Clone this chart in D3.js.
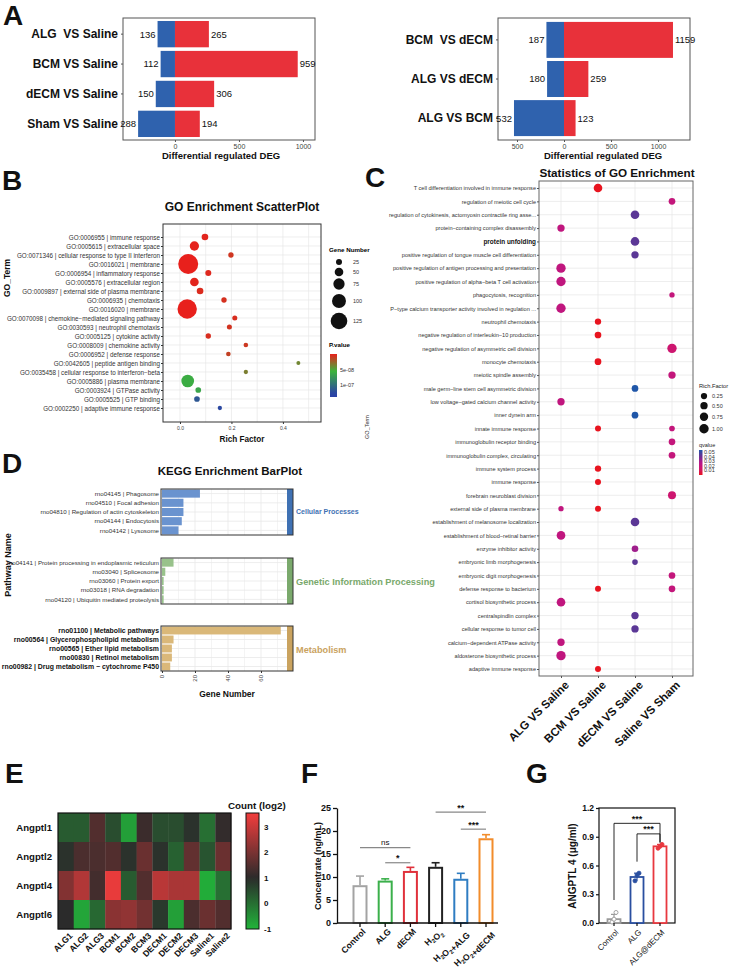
<!DOCTYPE html>
<html>
<head>
<meta charset="utf-8">
<title>Figure</title>
<script src="https://cdn.jsdelivr.net/npm/d3@7"></script>
<style>
  body { margin: 0; background: #fff; }
  svg { display: block; font-family: "Liberation Sans", Arial, Helvetica, sans-serif; }
</style>
</head>
<body>
<svg id="fig" width="733" height="978"></svg>
<script>
// ---------- data ----------
// A: differential regulated DEG (down = blue, up = red)
const degCatsLeft = ["ALG  VS Saline", "BCM VS Saline", "dECM VS Saline", "Sham VS Saline"];
const degDownLeft = [136, 112, 150, 288];
const degUpLeft = [265, 959, 306, 194];
const degCatsRight = ["BCM  VS dECM", "ALG VS dECM", "ALG VS BCM"];
const degDownRight = [187, 180, 532];
const degUpRight = [1159, 259, 123];

// B: GO enrichment scatter
const goTerms = [
  "GO:0006955 | immune response",
  "GO:0005615 | extracellular space",
  "GO:0071346 | cellular response to type II interferon",
  "GO:0016021 | membrane",
  "GO:0006954 | inflammatory response",
  "GO:0005576 | extracellular region",
  "GO:0009897 | external side of plasma membrane",
  "GO:0006935 | chemotaxis",
  "GO:0016020 | membrane",
  "GO:0070098 | chemokine\u2212mediated signaling pathway",
  "GO:0030593 | neutrophil chemotaxis",
  "GO:0005125 | cytokine activity",
  "GO:0008009 | chemokine activity",
  "GO:0006952 | defense response",
  "GO:0042605 | peptide antigen binding",
  "GO:0035458 | cellular response to interferon\u2212beta",
  "GO:0005886 | plasma membrane",
  "GO:0003924 | GTPase activity",
  "GO:0005525 | GTP binding",
  "GO:0002250 | adaptive immune response"
];
const goRichFactor = [0.097, 0.056, 0.198, 0.032, 0.110, 0.056, 0.078, 0.171, 0.028, 0.213,
                      0.192, 0.110, 0.256, 0.188, 0.460, 0.256, 0.030, 0.071, 0.066, 0.155];
const goGeneNumber = [31, 56, 19, 157, 25, 50, 31, 19, 151, 16, 16, 19, 12, 12, 6, 9, 88, 22, 22, 9];
const goPValue = [2e-9, 1e-9, 8e-9, 1e-10, 3e-9, 2e-9, 4e-9, 6e-9, 1e-10, 5e-9,
                  7e-9, 5e-9, 9e-9, 1.2e-8, 3.8e-8, 3.5e-8, 6.0e-8, 6.5e-8, 1.15e-7, 1.25e-7];
const goSizeBreaks = [25, 50, 75, 100, 125];

// C: statistics of GO enrichment
const cGroups = ["ALG VS Saline", "BCM VS Saline", "dECM VS Saline", "Saline VS Sham"];
const cTerms = [
  "T cell differentiation involved in immune response",
  "regulation of meiotic cell cycle",
  "regulation of cytokinesis, actomyosin contractile ring asse...",
  "protein\u2212containing complex disassembly",
  "protein unfolding",
  "positive regulation of tongue muscle cell differentiation",
  "positive regulation of antigen processing and presentation",
  "positive regulation of alpha\u2212beta T cell activation",
  "phagocytosis, recognition",
  "P\u2212type calcium transporter activity involved in regulation ...",
  "neutrophil chemotaxis",
  "negative regulation of interleukin\u221210 production",
  "negative regulation of asymmetric cell division",
  "monocyte chemotaxis",
  "meiotic spindle assembly",
  "male germ\u2212line stem cell asymmetric division",
  "low voltage\u2212gated calcium channel activity",
  "inner dynein arm",
  "innate immune response",
  "immunoglobulin receptor binding",
  "immunoglobulin complex, circulating",
  "immune system process",
  "immune response",
  "forebrain neuroblast division",
  "external side of plasma membrane",
  "establishment of melanosome localization",
  "establishment of blood\u2212retinal barrier",
  "enzyme inhibitor activity",
  "embryonic limb morphogenesis",
  "embryonic digit morphogenesis",
  "defense response to bacterium",
  "cortisol biosynthetic process",
  "centralspindlin complex",
  "cellular response to tumor cell",
  "calcium\u2212dependent ATPase activity",
  "aldosterone biosynthetic process",
  "adaptive immune response"
];
const cDotTerm  = [0, 1, 2, 3, 4, 5, 6, 7, 8, 9, 10, 11, 12, 13, 14, 15, 16, 17, 18, 18,
                   19, 20, 21, 22, 23, 24, 24, 25, 26, 27, 28, 29, 30, 30, 31, 32, 33, 34, 35, 36];
const cDotGroup = [1, 3, 2, 0, 2, 2, 0, 0, 3, 0, 1, 1, 3, 1, 3, 2, 0, 2, 1, 3,
                   3, 3, 1, 1, 3, 0, 1, 2, 0, 2, 2, 3, 1, 3, 0, 2, 2, 0, 0, 1];
const cDotRich  = [0.82, 0.35, 0.82, 0.51, 0.82, 0.51, 0.99, 0.99, 0.03, 0.99, 0.27, 0.35, 0.99, 0.35, 0.51, 0.35, 0.51, 0.35, 0.19, 0.11,
                   0.35, 0.35, 0.27, 0.19, 0.67, 0.03, 0.19, 0.82, 0.82, 0.35, 0.11, 0.35, 0.19, 0.35, 0.82, 0.51, 0.51, 0.51, 0.99, 0.19];
const cDotQ     = [0.008, 0.025, 0.042, 0.026, 0.042, 0.042, 0.026, 0.026, 0.025, 0.026, 0.008, 0.008, 0.021, 0.008, 0.025, 0.05, 0.026, 0.05, 0.008, 0.025,
                   0.025, 0.025, 0.008, 0.008, 0.021, 0.026, 0.008, 0.042, 0.026, 0.033, 0.042, 0.025, 0.008, 0.025, 0.026, 0.042, 0.042, 0.026, 0.026, 0.008];
const cRichBreaks = [0.25, 0.50, 0.75, 1.00];
const cQBreaks = [0.05, 0.04, 0.03, 0.02, 0.01];

// D: KEGG enrichment bar plot
const keggClasses = ["Cellular Processes", "Genetic Information Processing", "Metabolism"];
const keggPathways = [
  "rno04145 | Phagosome", "rno04510 | Focal adhesion", "rno04810 | Regulation of actin cytoskeleton",
  "rno04144 | Endocytosis", "rno04142 | Lysosome",
  "rno04141 | Protein processing in endoplasmic reticulum", "rno03040 | Spliceosome", "rno03060 | Protein export",
  "rno03018 | RNA degradation", "rno04120 | Ubiquitin mediated proteolysis",
  "rno01100 | Metabolic pathways", "rno00564 | Glycerophospholipid metabolism", "rno00565 | Ether lipid metabolism",
  "rno00830 | Retinol metabolism", "rno00982 | Drug metabolism \u2212 cytochrome P450"
];
const keggClass = [0, 0, 0, 0, 0, 1, 1, 1, 1, 1, 2, 2, 2, 2, 2];
const keggGeneNumber = [23, 13, 13, 12, 10, 7, 2, 1, 1, 1, 72, 7, 6, 6, 5];
const keggTicks = [0, 20, 40, 60];

// E: heatmap, Count (log2)
const heatGenes = ["Angptl1", "Angptl2", "Angptl4", "Angptl6"];
const heatSamples = ["ALG1", "ALG2", "ALG3", "BCM1", "BCM2", "BCM3", "DECM1", "DECM2", "DECM3", "Saline1", "Saline2"];
const heatValues = [
  [0.3, 0.3, 1.5, 0.5, -0.7, 1.2, 0.5, 0.5, 0.9, 0.0, 1.1],
  [0.9, 1.4, 1.4, 1.5, 0.9, 1.8, 0.9, 0.2, 1.7, 0.4, 1.8],
  [2.1, 2.7, 1.3, 3.4, 0.3, 1.5, 2.8, 2.6, 2.6, -0.9, 0.0],
  [1.0, -0.8, 0.1, 2.2, 2.3, 1.9, 0.8, -0.7, 1.4, 1.8, 1.5]
];
const heatTicks = [3, 2, 1, 0, -1];

// F: concentration (ng/mL)
const fGroups = ["Control", "ALG", "dECM", "H2O2", "H2O2+ALG", "H2O2+dECM"];
const fMean = [8.0, 9.0, 11.1, 12.0, 9.4, 18.2];
const fSD = [2.2, 0.6, 1.0, 1.1, 1.4, 1.0];
const fTicks = [0, 5, 10, 15, 20, 25];
const fSig = [[0, 2, 16.4, "ns"], [1, 2, 13.1, "*"], [3, 5, 24.1, "**"], [4, 5, 20.4, "***"]];

// G: ANGPTL 4 (ug/ml)
const gGroups = ["Control", "ALG", "ALG@dECM"];
const gMean = [0.04, 0.48, 0.80];
const gSD = [0.05, 0.04, 0.02];
const gPoints = [[0.01, 0.04, 0.11], [0.44, 0.50, 0.52], [0.78, 0.80, 0.82]];
const gTicks = [0.0, 0.3, 0.6, 0.9, 1.2];
const gSig = [[0, 2, 1.04, "***"], [1, 2, 0.93, "***"]];

// ---------- drawing ----------
const svg = d3.select("#fig");
const BLUE = "#2f62ae", RED = "#e8313a";

function plainAxis(sel) {
  sel.attr("font-family", null).attr("font-size", null);
  return sel;
}

function letter(t, x, y) {
  svg.append("text").attr("x", x).attr("y", y)
    .attr("font-size", 28).attr("font-weight", "bold").attr("fill", "#111").text(t);
}
letter("A", 3, 25); letter("B", 2, 190); letter("C", 365, 187); letter("D", 2, 473);
letter("E", 5, 783); letter("F", 301, 783); letter("G", 526, 783);

// ----- A -----
function degPanel(cats, down, up, o) {
  const g = svg.append("g");
  const x = d3.scaleLinear().domain(o.domain).range([o.x0, o.x1]);
  const y = d3.scaleBand().domain(cats).range([o.y0, o.y1]).paddingInner(o.pi).paddingOuter(o.po);
  const rows = cats.map((c, i) => ({ c: c, dn: down[i], up: up[i] }));

  g.selectAll("rect.dn").data(rows).join("rect").attr("class", "dn")
    .attr("x", d => x(-d.dn)).attr("width", d => x(0) - x(-d.dn))
    .attr("y", d => y(d.c)).attr("height", y.bandwidth()).attr("fill", BLUE);
  g.selectAll("rect.up").data(rows).join("rect").attr("class", "up")
    .attr("x", x(0)).attr("width", d => x(d.up) - x(0))
    .attr("y", d => y(d.c)).attr("height", y.bandwidth()).attr("fill", RED);

  g.append("rect").attr("x", o.x0).attr("y", o.y0)
    .attr("width", o.x1 - o.x0).attr("height", o.y1 - o.y0)
    .attr("fill", "none").attr("stroke", "#555").attr("stroke-width", 1);

  const ax = g.append("g").attr("transform", `translate(0,${o.y1})`)
    .call(d3.axisBottom(x).tickValues(o.ticks).tickSize(2).tickPadding(2).tickFormat(d => Math.abs(d)));
  plainAxis(ax).select(".domain").remove();
  ax.selectAll("text").attr("font-size", 7).attr("fill", "#444");
  ax.selectAll("line").attr("stroke", "#555");

  g.selectAll("line.ct").data(rows).join("line").attr("class", "ct")
    .attr("x1", o.x0 - 2).attr("x2", o.x0)
    .attr("y1", d => y(d.c) + y.bandwidth() / 2).attr("y2", d => y(d.c) + y.bandwidth() / 2)
    .attr("stroke", "#555");

  g.selectAll("text.cat").data(rows).join("text").attr("class", "cat")
    .attr("x", o.x0 - 5).attr("y", d => y(d.c) + y.bandwidth() / 2).attr("dy", "0.36em")
    .attr("text-anchor", "end").attr("font-size", 12).attr("font-weight", "bold").attr("fill", "#111")
    .style("white-space", "pre").text(d => d.c);

  g.selectAll("text.vd").data(rows).join("text").attr("class", "vd")
    .attr("x", d => x(-d.dn) - 2).attr("y", d => y(d.c) + y.bandwidth() / 2).attr("dy", "0.36em")
    .attr("text-anchor", "end").attr("font-size", 9.5).attr("fill", "#111").text(d => d.dn);
  g.selectAll("text.vu").data(rows).join("text").attr("class", "vu")
    .attr("x", d => x(d.up) + 2).attr("y", d => y(d.c) + y.bandwidth() / 2).attr("dy", "0.36em")
    .attr("font-size", 9.5).attr("fill", "#111").text(d => d.up);

  g.append("text").attr("x", o.titleX).attr("y", 159).attr("text-anchor", "middle")
    .attr("font-size", 9.5).attr("font-weight", "bold").attr("fill", "#111")
    .text("Differential regulated DEG");
}
degPanel(degCatsLeft, degDownLeft, degUpLeft,
  { x0: 123, x1: 315, y0: 18, y1: 140, domain: [-406, 1094], ticks: [0, 500, 1000], pi: 0.12, po: 0.1, titleX: 221 });
degPanel(degCatsRight, degDownRight, degUpRight,
  { x0: 498, x1: 690, y0: 18, y1: 140, domain: [-702, 1340], ticks: [-500, 0, 500, 1000], pi: 0.08, po: 0.1, titleX: 603 });

// ----- B -----
(function () {
  const g = svg.append("g");
  const X0 = 163, X1 = 321, Y0 = 224, Y1 = 422;
  const x = d3.scaleLinear().domain([-0.066, 0.548]).range([X0, X1]);
  const y = d3.scalePoint().domain(goTerms).range([237, 408]);
  const r = d3.scaleLinear().domain([25, 125]).range([3, 8.3]);
  const col = d3.scaleLinear().domain([0, 5.5e-8, 1.3e-7]).range(["#e8201c", "#3cb43c", "#2a40a8"]).clamp(true);

  g.append("text").attr("x", 242).attr("y", 211).attr("text-anchor", "middle")
    .attr("font-size", 12).attr("font-weight", "bold").attr("fill", "#111").text("GO Enrichment ScatterPlot");

  g.selectAll("line.vg").data(d3.range(0, 0.55, 0.1)).join("line").attr("class", "vg")
    .attr("x1", d => x(d)).attr("x2", d => x(d)).attr("y1", Y0).attr("y2", Y1)
    .attr("stroke", "#e6e6e6").attr("stroke-width", 0.7);
  g.selectAll("line.hg").data(goTerms).join("line").attr("class", "hg")
    .attr("x1", X0).attr("x2", X1).attr("y1", d => y(d)).attr("y2", d => y(d))
    .attr("stroke", "#e6e6e6").attr("stroke-width", 0.7);

  const pts = goTerms.map((t, i) => ({ t: t, rf: goRichFactor[i], n: goGeneNumber[i], p: goPValue[i] }));
  g.selectAll("circle.pt").data(pts).join("circle").attr("class", "pt")
    .attr("cx", d => x(d.rf)).attr("cy", d => y(d.t)).attr("r", d => r(d.n))
    .attr("fill", d => col(d.p));

  g.append("rect").attr("x", X0).attr("y", Y0).attr("width", X1 - X0).attr("height", Y1 - Y0)
    .attr("fill", "none").attr("stroke", "#333").attr("stroke-width", 1);

  const ax = g.append("g").attr("transform", `translate(0,${Y1})`)
    .call(d3.axisBottom(x).tickValues([0, 0.2, 0.4]).tickSize(2).tickPadding(2).tickFormat(d3.format(".1f")));
  plainAxis(ax).select(".domain").remove();
  ax.selectAll("text").attr("font-size", 5).attr("fill", "#444");
  ax.selectAll("line").attr("stroke", "#333");

  const ay = g.append("g").attr("transform", `translate(${X0},0)`)
    .call(d3.axisLeft(y).tickSize(2).tickPadding(1));
  plainAxis(ay).select(".domain").remove();
  ay.selectAll("text").attr("font-size", 6.3).attr("fill", "#333");
  ay.selectAll("line").attr("stroke", "#333");

  g.append("text").attr("x", 242).attr("y", 442).attr("text-anchor", "middle")
    .attr("font-size", 8.2).attr("font-weight", "bold").attr("fill", "#111").text("Rich Factor");
  g.append("text").attr("transform", "translate(10,278) rotate(-90)").attr("text-anchor", "middle")
    .attr("font-size", 8.5).attr("font-weight", "bold").attr("fill", "#111").text("GO_Term");

  // legends
  g.append("text").attr("x", 329).attr("y", 252).attr("font-size", 6.2).attr("font-weight", "bold").text("Gene Number");
  const ly = [262, 272, 284, 301, 321];
  g.selectAll("circle.lg").data(goSizeBreaks).join("circle").attr("class", "lg")
    .attr("cx", 339).attr("cy", (d, i) => ly[i]).attr("r", d => r(d)).attr("fill", "#111");
  g.selectAll("text.lg").data(goSizeBreaks).join("text").attr("class", "lg")
    .attr("x", 353).attr("y", (d, i) => ly[i]).attr("dy", "0.35em").attr("font-size", 5.5).attr("fill", "#333").text(d => d);

  g.append("text").attr("x", 329).attr("y", 347).attr("font-size", 6.2).attr("font-weight", "bold").text("P.value");
  const py = d3.scaleLinear().domain([0, 1.38e-7]).range([354, 397]);
  const grad = svg.append("defs").append("linearGradient").attr("id", "pgrad")
    .attr("x1", 0).attr("x2", 0).attr("y1", 0).attr("y2", 1);
  d3.range(0, 1.0001, 0.1).forEach(t => {
    grad.append("stop").attr("offset", t).attr("stop-color", col(py.domain()[1] * t));
  });
  g.append("rect").attr("x", 330).attr("y", 354).attr("width", 7).attr("height", 43).attr("fill", "url(#pgrad)");
  [[5e-8, "5e-08"], [1e-7, "1e-07"]].forEach(([v, s]) => {
    g.append("text").attr("x", 340).attr("y", py(v)).attr("dy", "0.35em").attr("font-size", 5.5).attr("fill", "#333").text(s);
  });
})();

// ----- C -----
(function () {
  const g = svg.append("g");
  const X0 = 539, X1 = 693, Y0 = 181, Y1 = 676;
  const x = d3.scalePoint().domain(cGroups).range([561, 672]);
  const y = d3.scalePoint().domain(cTerms).range([188, 669]);
  const r = d3.scaleLinear().domain([0, 1]).range([2.6, 4.7]);
  const col = d3.scaleLinear().domain([0.01, 0.02, 0.03, 0.04, 0.05])
    .range(["#e8141f", "#d0156c", "#b5178a", "#6a2f92", "#1f56a8"]).clamp(true);

  g.append("text").attr("x", 617).attr("y", 177).attr("text-anchor", "middle")
    .attr("font-size", 11.7).attr("font-weight", "bold").attr("fill", "#111").text("Statistics of GO Enrichment");

  g.selectAll("line.hg").data(cTerms).join("line").attr("class", "hg")
    .attr("x1", X0).attr("x2", X1).attr("y1", d => y(d)).attr("y2", d => y(d))
    .attr("stroke", "#e8e8e8").attr("stroke-width", 0.8);
  g.selectAll("line.vg").data(cGroups).join("line").attr("class", "vg")
    .attr("x1", d => x(d)).attr("x2", d => x(d)).attr("y1", Y0).attr("y2", Y1)
    .attr("stroke", "#e8e8e8").attr("stroke-width", 0.8);

  const dots = cDotTerm.map((t, i) => ({ t: cTerms[t], gp: cGroups[cDotGroup[i]], rf: cDotRich[i], q: cDotQ[i] }));
  g.selectAll("circle.pt").data(dots).join("circle").attr("class", "pt")
    .attr("cx", d => x(d.gp)).attr("cy", d => y(d.t)).attr("r", d => r(d.rf)).attr("fill", d => col(d.q));

  g.append("rect").attr("x", X0).attr("y", Y0).attr("width", X1 - X0).attr("height", Y1 - Y0)
    .attr("fill", "none").attr("stroke", "#666").attr("stroke-width", 1);

  const ay = g.append("g").attr("transform", `translate(${X0},0)`).call(d3.axisLeft(y).tickSize(2).tickPadding(1));
  plainAxis(ay).select(".domain").remove();
  ay.selectAll("line").attr("stroke", "#555");
  ay.selectAll("text").attr("font-size", d => d === "protein unfolding" ? 6.4 : 5.6)
    .attr("font-weight", d => d === "protein unfolding" ? "bold" : null)
    .attr("fill", d => d === "protein unfolding" ? "#111" : "#333");

  const ax = g.append("g").attr("transform", `translate(0,${Y1})`).call(d3.axisBottom(x).tickSize(2).tickFormat(""));
  plainAxis(ax).select(".domain").remove();
  ax.selectAll("line").attr("stroke", "#555");
  g.selectAll("text.xl").data(cGroups).join("text").attr("class", "xl")
    .attr("transform", d => `translate(${x(d) + 3},680) rotate(-45)`)
    .attr("text-anchor", "end").attr("dy", "0.7em")
    .attr("font-size", 11.5).attr("font-weight", "bold").attr("fill", "#111").text(d => d);

  g.append("text").attr("transform", "translate(369,427) rotate(-90)").attr("text-anchor", "middle")
    .attr("font-size", 5.5).attr("fill", "#333").text("GO_Term");

  // legends
  g.append("text").attr("x", 699).attr("y", 388).attr("font-size", 5.7).attr("fill", "#222").text("Rich.Factor");
  const ly = [396, 405.7, 416.7, 428.7];
  g.selectAll("circle.lg").data(cRichBreaks).join("circle").attr("class", "lg")
    .attr("cx", 704).attr("cy", (d, i) => ly[i]).attr("r", d => r(d)).attr("fill", "#111");
  g.selectAll("text.lg").data(cRichBreaks).join("text").attr("class", "lg")
    .attr("x", 712).attr("y", (d, i) => ly[i]).attr("dy", "0.35em").attr("font-size", 5.5).attr("fill", "#333")
    .text(d => d.toFixed(2));

  g.append("text").attr("x", 699).attr("y", 447).attr("font-size", 5.5).attr("fill", "#222").text("qvalue");
  const qy = d3.scaleLinear().domain([0.05, 0.01]).range([452, 470.5]);
  const grad = svg.append("defs").append("linearGradient").attr("id", "qgrad")
    .attr("x1", 0).attr("x2", 0).attr("y1", 0).attr("y2", 1);
  d3.range(0, 1.0001, 0.1).forEach(t => {
    grad.append("stop").attr("offset", t).attr("stop-color", col(0.05 - 0.04 * t));
  });
  g.append("rect").attr("x", 699).attr("y", 450).attr("width", 3.5).attr("height", 25).attr("fill", "url(#qgrad)");
  g.selectAll("text.ql").data(cQBreaks).join("text").attr("class", "ql")
    .attr("x", 704).attr("y", d => qy(d)).attr("dy", "0.35em").attr("font-size", 5.5).attr("fill", "#333")
    .text(d => d.toFixed(2));
})();

// ----- D -----
(function () {
  const g = svg.append("g");
  const X0 = 161, X1 = 293;
  const boxes = [[489, 535], [558, 604], [626, 671]];
  const barColor = ["#6a93cf", "#98c28b", "#dab879"];
  const stripColor = ["#3f71b3", "#7aa96c", "#caa35f"];
  const stripText = [{ y: 514, fs: 7 }, { y: 585, fs: 9.2 }, { y: 653, fs: 9.2 }];
  const x = d3.scaleLinear().domain([-0.6, 79.4]).range([X0, X1]);

  g.append("text").attr("x", 230).attr("y", 475).attr("text-anchor", "middle")
    .attr("font-size", 11.5).attr("font-weight", "bold").attr("fill", "#111").text("KEGG Enrichment BarPlot");

  keggClasses.forEach((cls, k) => {
    const [t, b] = boxes[k];
    const rows = keggPathways.map((p, i) => ({ p: p, n: keggGeneNumber[i], c: keggClass[i] })).filter(d => d.c === k);
    const y = d3.scaleBand().domain(rows.map(d => d.p)).range([t, b]).paddingInner(0.12).paddingOuter(0.06);
    const fg = g.append("g");

    fg.selectAll("line.vg").data(d3.range(0, 80, 10)).join("line").attr("class", "vg")
      .attr("x1", d => x(d)).attr("x2", d => x(d)).attr("y1", t).attr("y2", b)
      .attr("stroke", "#e8e8e8").attr("stroke-width", d => d % 20 === 0 ? 0.8 : 0.5);
    fg.selectAll("line.hg").data(rows).join("line").attr("class", "hg")
      .attr("x1", X0).attr("x2", X1).attr("y1", d => y(d.p) + y.bandwidth() / 2).attr("y2", d => y(d.p) + y.bandwidth() / 2)
      .attr("stroke", "#e8e8e8").attr("stroke-width", 0.8);

    fg.selectAll("rect.bar").data(rows).join("rect").attr("class", "bar")
      .attr("x", x(0)).attr("width", d => x(d.n) - x(0))
      .attr("y", d => y(d.p)).attr("height", y.bandwidth()).attr("fill", barColor[k]);

    fg.append("rect").attr("x", X1 - 6).attr("y", t).attr("width", 6).attr("height", b - t).attr("fill", stripColor[k]);
    fg.append("rect").attr("x", X0).attr("y", t).attr("width", X1 - X0).attr("height", b - t)
      .attr("fill", "none").attr("stroke", "#333").attr("stroke-width", 1);

    const bold = k === 2;
    fg.selectAll("text.lab").data(rows).join("text").attr("class", "lab")
      .attr("x", X0 - 2).attr("y", d => y(d.p) + y.bandwidth() / 2).attr("dy", "0.35em")
      .attr("text-anchor", "end").attr("font-size", bold ? 6.9 : 6.2)
      .attr("font-weight", bold ? "bold" : null).attr("fill", bold ? "#111" : "#333").text(d => d.p);

    fg.append("text").attr("x", 296).attr("y", stripText[k].y).attr("font-size", stripText[k].fs)
      .attr("font-weight", "bold").attr("fill", stripColor[k]).text(cls);
  });

  const ax = g.append("g").attr("transform", "translate(0,671)").call(d3.axisBottom(x).tickValues(keggTicks).tickSize(2).tickFormat(""));
  plainAxis(ax).select(".domain").remove();
  ax.selectAll("line").attr("stroke", "#333");
  g.selectAll("text.xt").data(keggTicks).join("text").attr("class", "xt")
    .attr("transform", d => `translate(${x(d)},675) rotate(-90)`).attr("text-anchor", "end").attr("dy", "0.35em")
    .attr("font-size", 6).attr("fill", "#444").text(d => d);

  g.append("text").attr("x", 227).attr("y", 697).attr("text-anchor", "middle")
    .attr("font-size", 8.5).attr("font-weight", "bold").attr("fill", "#111").text("Gene Number");
  g.append("text").attr("transform", "translate(11,565) rotate(-90)").attr("text-anchor", "middle")
    .attr("font-size", 9).attr("font-weight", "bold").attr("fill", "#111").text("Pathway Name");
})();

// ----- E -----
(function () {
  const g = svg.append("g");
  const X0 = 58, X1 = 231, Y0 = 813, Y1 = 929;
  const x = d3.scaleBand().domain(heatSamples).range([X0, X1]);
  const y = d3.scaleBand().domain(heatGenes).range([Y0, Y1]);
  const col = d3.scaleLinear().domain([-1, 1.0, 3.5]).range(["#22b33a", "#2b2b2b", "#f03c3c"]).clamp(true);

  const cells = [];
  heatGenes.forEach((gn, i) => heatSamples.forEach((s, j) => cells.push({ gn: gn, s: s, v: heatValues[i][j] })));
  g.selectAll("rect.cell").data(cells).join("rect").attr("class", "cell")
    .attr("x", d => x(d.s)).attr("y", d => y(d.gn)).attr("width", x.bandwidth() + 0.3).attr("height", y.bandwidth() + 0.3)
    .attr("fill", d => col(d.v));
  g.append("rect").attr("x", X0).attr("y", Y0).attr("width", X1 - X0).attr("height", Y1 - Y0)
    .attr("fill", "none").attr("stroke", "#111").attr("stroke-width", 1.2);

  g.selectAll("text.rl").data(heatGenes).join("text").attr("class", "rl")
    .attr("x", 52).attr("y", d => y(d) + y.bandwidth() / 2).attr("dy", "0.36em").attr("text-anchor", "end")
    .attr("font-size", 9.6).attr("font-weight", "bold").attr("fill", "#111").text(d => d);
  g.selectAll("text.cl").data(heatSamples).join("text").attr("class", "cl")
    .attr("transform", d => `translate(${x(d) + x.bandwidth() / 2 + 3},932) rotate(-45)`)
    .attr("text-anchor", "end").attr("dy", "0.7em")
    .attr("font-size", 8.6).attr("font-weight", "bold").attr("fill", "#111").text(d => d);

  // colour bar
  const cy = d3.scaleLinear().domain([3.55, -1]).range([813, 929]);
  const grad = svg.append("defs").append("linearGradient").attr("id", "hgrad")
    .attr("x1", 0).attr("x2", 0).attr("y1", 0).attr("y2", 1);
  d3.range(0, 1.0001, 0.05).forEach(t => grad.append("stop").attr("offset", t).attr("stop-color", col(cy.invert(813 + t * 116))));
  g.append("rect").attr("x", 246).attr("y", 813).attr("width", 13).attr("height", 116)
    .attr("fill", "url(#hgrad)").attr("stroke", "#111").attr("stroke-width", 1);
  g.selectAll("text.ct").data(heatTicks).join("text").attr("class", "ct")
    .attr("x", 264).attr("y", d => cy(d)).attr("dy", "0.36em")
    .attr("font-size", 8).attr("font-weight", "bold").attr("fill", "#111").text(d => d);
  g.append("text").attr("x", 228).attr("y", 809).attr("font-size", 9.8).attr("font-weight", "bold").attr("fill", "#111")
    .text("Count (log2)");
})();

// helper: H2O2 style labels with subscripts
function subLabel(sel, label, fs) {
  label.split(/(2)/).forEach(part => {
    if (part === "2") {
      sel.append("tspan").attr("dy", fs * 0.28).attr("font-size", fs * 0.7).text("2");
      sel.append("tspan").attr("dy", -fs * 0.28).text("");
    } else if (part) {
      sel.append("tspan").text(part);
    }
  });
}

// ----- F -----
(function () {
  const g = svg.append("g");
  const AX = 337, AXEND = 498;
  const colors = ["#a3a3a3", "#3bb04b", "#e0313b", "#222222", "#2f7dc2", "#f28c2b"];
  const y = d3.scaleLinear().domain([0, 25]).range([923, 808]);
  const x = d3.scalePoint().domain(fGroups).range([360, 486]);
  const rows = fGroups.map((gp, i) => ({ gp: gp, m: fMean[i], sd: fSD[i], c: colors[i] }));

  g.selectAll("rect.bar").data(rows).join("rect").attr("class", "bar")
    .attr("x", d => x(d.gp) - 6.5).attr("width", 13)
    .attr("y", d => y(d.m)).attr("height", d => y(0) - y(d.m))
    .attr("fill", "#fff").attr("stroke", d => d.c).attr("stroke-width", 2);
  g.selectAll("line.eb").data(rows).join("line").attr("class", "eb")
    .attr("x1", d => x(d.gp)).attr("x2", d => x(d.gp)).attr("y1", d => y(d.m) - 1).attr("y2", d => y(d.m + d.sd))
    .attr("stroke", d => d.c).attr("stroke-width", 1.6);
  g.selectAll("line.cap").data(rows).join("line").attr("class", "cap")
    .attr("x1", d => x(d.gp) - 4).attr("x2", d => x(d.gp) + 4).attr("y1", d => y(d.m + d.sd)).attr("y2", d => y(d.m + d.sd))
    .attr("stroke", d => d.c).attr("stroke-width", 1.6);

  const ay = g.append("g").attr("transform", `translate(${AX},0)`)
    .call(d3.axisLeft(y).tickValues(fTicks).tickSize(4).tickPadding(2).tickSizeOuter(0));
  plainAxis(ay);
  ay.select(".domain").attr("stroke", "#111").attr("stroke-width", 1.3);
  ay.selectAll("line").attr("stroke", "#111").attr("stroke-width", 1.3);
  ay.selectAll("text").attr("font-size", 9).attr("font-weight", "bold").attr("fill", "#111");

  g.append("line").attr("x1", AX).attr("x2", AXEND).attr("y1", 923).attr("y2", 923).attr("stroke", "#111").attr("stroke-width", 1.3);
  g.selectAll("line.xt").data(fGroups).join("line").attr("class", "xt")
    .attr("x1", d => x(d)).attr("x2", d => x(d)).attr("y1", 923).attr("y2", 927).attr("stroke", "#111").attr("stroke-width", 1.3);
  g.selectAll("text.xl").data(fGroups).join("text").attr("class", "xl")
    .attr("transform", d => `translate(${x(d) + 2},928) rotate(-45)`)
    .attr("text-anchor", "end").attr("dy", "0.7em")
    .attr("font-size", 8.6).attr("font-weight", "bold").attr("fill", "#111")
    .each(function (d) { subLabel(d3.select(this), d, 8.6); });

  g.append("text").attr("transform", "translate(321,866) rotate(-90)").attr("text-anchor", "middle")
    .attr("font-size", 9).attr("font-weight", "bold").attr("fill", "#111").text("Concentrate (ng/mL)");

  fSig.forEach(([a, b, v, s]) => {
    g.append("line").attr("x1", x(fGroups[a])).attr("x2", x(fGroups[b])).attr("y1", y(v)).attr("y2", y(v))
      .attr("stroke", "#888").attr("stroke-width", 1.2);
    g.append("text").attr("x", (x(fGroups[a]) + x(fGroups[b])) / 2).attr("y", y(v) - (s === "ns" ? 3 : 1.5))
      .attr("text-anchor", "middle").attr("font-size", s === "ns" ? 8 : 9).attr("font-weight", s === "ns" ? null : "bold")
      .attr("fill", "#111").text(s);
  });
})();

// ----- G -----
(function () {
  const g = svg.append("g");
  const X0 = 599, X1 = 675, Y0 = 808, Y1 = 923;
  const colors = ["#9a9a9a", "#2a4fa0", "#e8383f"];
  const legGap = [0.13, 0.12, 0.02];
  const y = d3.scaleLinear().domain([0, 1.2]).range([Y1, Y0]);
  const x = d3.scalePoint().domain(gGroups).range([614, 660]);
  const rows = gGroups.map((gp, i) => ({ gp: gp, m: gMean[i], sd: gSD[i], pts: gPoints[i], c: colors[i] }));

  g.append("rect").attr("x", X0).attr("y", Y0).attr("width", X1 - X0).attr("height", Y1 - Y0)
    .attr("fill", "none").attr("stroke", "#111").attr("stroke-width", 1.2);

  g.selectAll("rect.bar").data(rows).join("rect").attr("class", "bar")
    .attr("x", d => x(d.gp) - 6.5).attr("width", 13)
    .attr("y", d => y(d.m)).attr("height", d => y(0) - y(d.m))
    .attr("fill", "#fff").attr("stroke", d => d.c).attr("stroke-width", 1.8);
  g.selectAll("line.eb").data(rows).join("line").attr("class", "eb")
    .attr("x1", d => x(d.gp)).attr("x2", d => x(d.gp)).attr("y1", d => y(d.m - d.sd)).attr("y2", d => y(d.m + d.sd))
    .attr("stroke", d => d.c).attr("stroke-width", 1.2);
  g.selectAll("line.cap").data(rows).join("line").attr("class", "cap")
    .attr("x1", d => x(d.gp) - 3).attr("x2", d => x(d.gp) + 3).attr("y1", d => y(d.m + d.sd)).attr("y2", d => y(d.m + d.sd))
    .attr("stroke", d => d.c).attr("stroke-width", 1.2);

  const pts = [];
  rows.forEach(d => d.pts.forEach((v, k) => pts.push({ gp: d.gp, v: v, k: k, c: d.c, i: gGroups.indexOf(d.gp) })));
  g.selectAll("circle.pt").data(pts).join("circle").attr("class", "pt")
    .attr("cx", d => x(d.gp) + (d.k - 1) * 2).attr("cy", d => y(d.v)).attr("r", 2)
    .attr("fill", d => d.i === 0 ? "#fff" : d.c).attr("stroke", d => d.c).attr("stroke-width", 0.9);

  const ay = g.append("g").attr("transform", `translate(${X0},0)`)
    .call(d3.axisLeft(y).tickValues(gTicks).tickSize(3).tickPadding(2).tickSizeOuter(0).tickFormat(d3.format(".1f")));
  plainAxis(ay).select(".domain").remove();
  ay.selectAll("line").attr("stroke", "#111").attr("stroke-width", 1.2);
  ay.selectAll("text").attr("font-size", 8.5).attr("font-weight", "bold").attr("fill", "#111");

  g.selectAll("line.xt").data(gGroups).join("line").attr("class", "xt")
    .attr("x1", d => x(d)).attr("x2", d => x(d)).attr("y1", Y1).attr("y2", Y1 + 3).attr("stroke", "#111").attr("stroke-width", 1.2);
  g.selectAll("text.xl").data(gGroups).join("text").attr("class", "xl")
    .attr("transform", d => `translate(${x(d) + 1},929) rotate(-45)`)
    .attr("text-anchor", "end").attr("dy", "0.7em")
    .attr("font-size", 8).attr("fill", "#111").text(d => d);

  g.append("text").attr("transform", "translate(576,866) rotate(-90)").attr("text-anchor", "middle")
    .attr("font-size", 10).attr("font-weight", "bold").attr("fill", "#111").text("ANGPTL 4 (\u03bcg/ml)");

  gSig.forEach(([a, b, v, s]) => {
    const top = i => Math.max(gMean[i] + gSD[i], d3.max(gPoints[i])) + legGap[i];
    const xa = x(gGroups[a]), xb = x(gGroups[b]);
    g.append("path").attr("d", `M${xa},${y(top(a))}V${y(v)}H${xb}V${y(top(b))}`)
      .attr("fill", "none").attr("stroke", "#111").attr("stroke-width", 0.9);
    g.append("text").attr("x", (xa + xb) / 2).attr("y", y(v) - 1.5).attr("text-anchor", "middle")
      .attr("font-size", 9).attr("font-weight", "bold").attr("fill", "#111").text(s);
  });
})();
</script>
</body>
</html>
